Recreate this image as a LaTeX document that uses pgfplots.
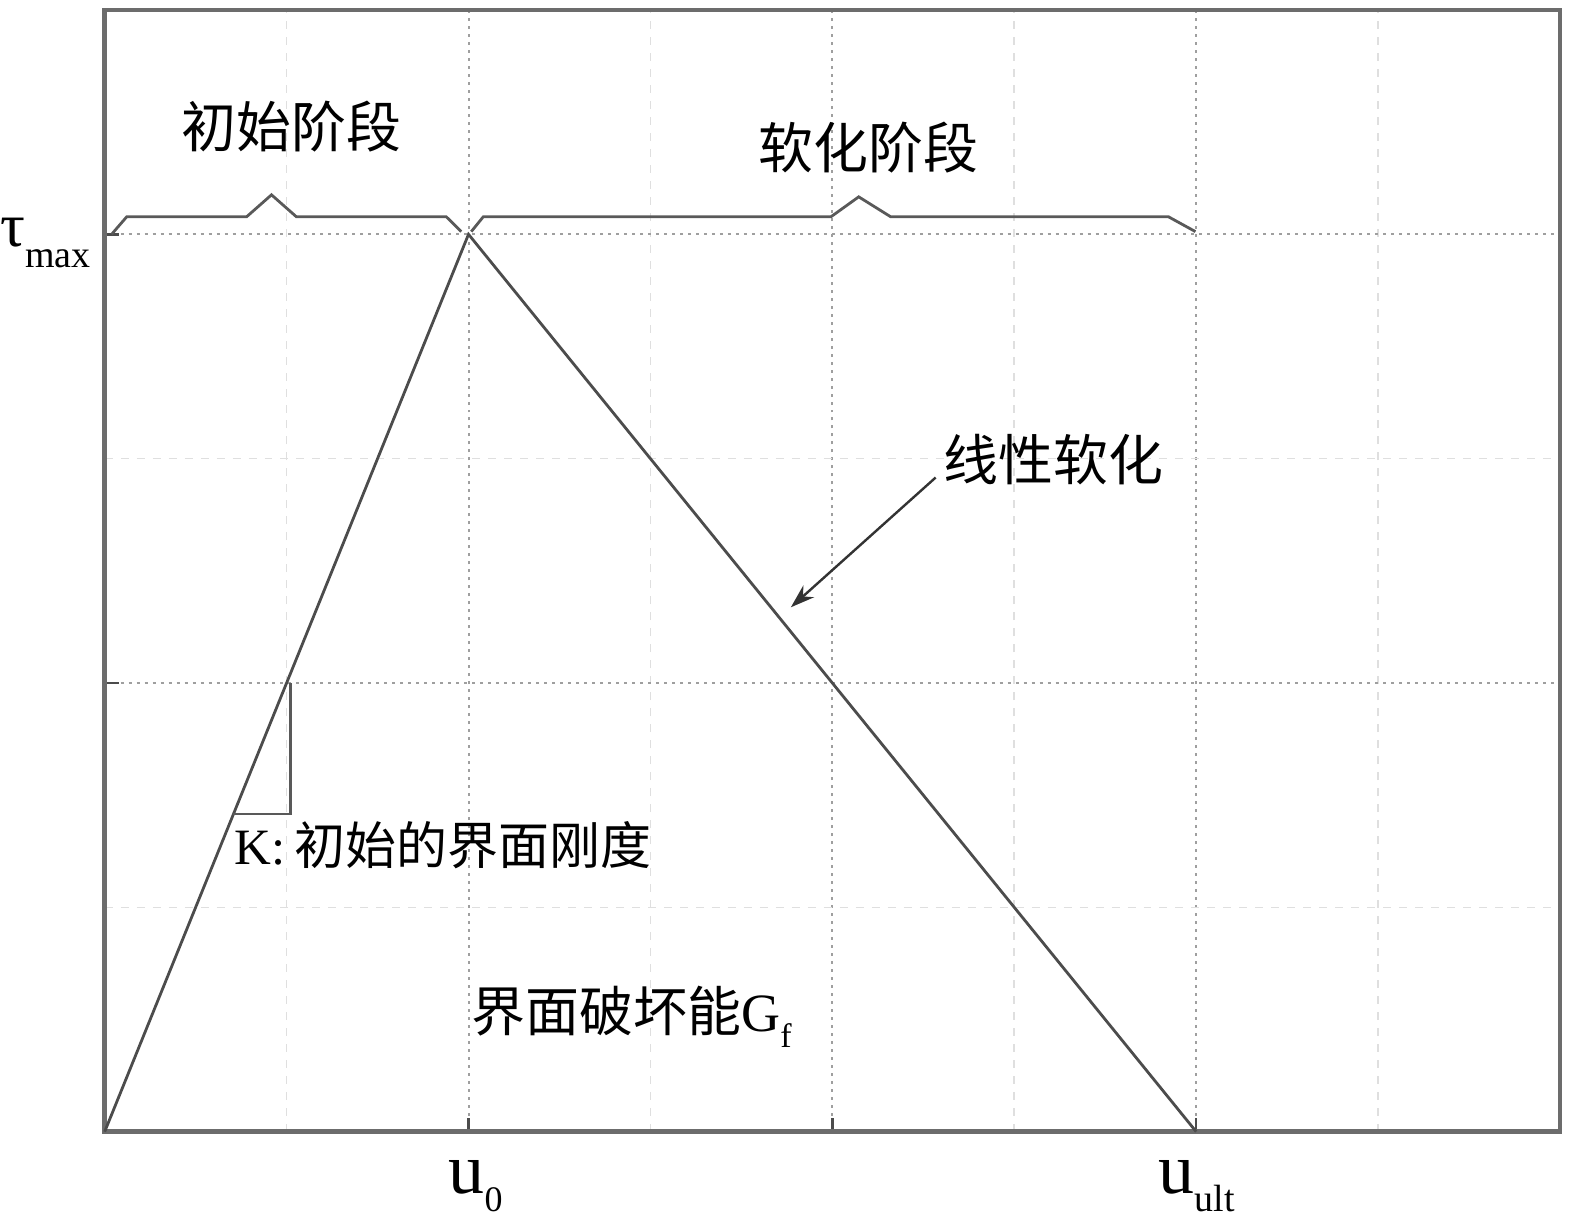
\documentclass[border=0pt]{standalone}
\usepackage{fontspec}
\setmainfont{Liberation Serif}
\newfontfamily\cjk{Noto Sans CJK SC}
\usepackage{pgfplots}
\pgfplotsset{compat=1.18}
\usetikzlibrary{arrows.meta}
\begin{document}
\begin{tikzpicture}
\begin{axis}[
  scale only axis, width=728.5pt, height=561.5pt,
  xmin=0, xmax=8, ymin=0, ymax=5,
  xtick={2,4,6}, ytick={2,4},
  minor xtick={1,3,5,7}, minor ytick={1,3},
  xticklabels={}, yticklabels={},
  xtick pos=bottom, ytick pos=left,
  tick align=inside,
  major tick length=7pt, minor tick length=0pt,
  tick style={black!70, line width=1.2pt},
  grid=both,
  major grid style={dash pattern=on 1.5pt off 2.5pt, gray!75, line width=1pt},
  minor grid style={dash pattern=on 4pt off 4pt, gray!25, line width=0.8pt},
  axis line style={gray!85!black, line width=2.2pt},
  clip=false,
]
\addplot[black!70, line width=1.4pt] coordinates {(0,0) (2,4) (6,0)};
\addplot[black!65, line width=1.4pt] coordinates {(1.02,2) (1.02,1.416) (0.708,1.416)};
% braces
\addplot[black!65, line width=1.4pt] coordinates {(0.038,4.0) (0.121,4.078) (0.780,4.078) (0.917,4.176) (1.054,4.078) (1.878,4.078) (1.960,4.012)};
\addplot[black!65, line width=1.4pt] coordinates {(2.015,4.012) (2.081,4.078) (3.992,4.078) (4.145,4.167) (4.321,4.078) (5.848,4.078) (5.996,4.012)};
\draw[black!80, line width=1.2pt, -{Stealth[length=12pt,width=8pt]}] (axis cs:4.568,2.916) -- (axis cs:3.772,2.3375);
% texts
\node[inner sep=0] at (axis cs:1.027,4.479) {\fontsize{27.5}{30}\selectfont\cjk 初始阶段};
\node[inner sep=0] at (axis cs:4.200,4.386) {\fontsize{27.5}{30}\selectfont\cjk 软化阶段};
\node[inner sep=0] at (axis cs:5.216,2.996) {\fontsize{27.5}{30}\selectfont\cjk 线性软化};
\node[inner sep=0, anchor=base west] at (axis cs:0.714,1.189) {\fontsize{25.5}{28}\selectfont K:\,{\cjk 初始的界面刚度}};
\node[inner sep=0, anchor=base west] at (axis cs:2.015,0.445) {\fontsize{27}{30}\selectfont{\cjk 界面破坏能}G\raisebox{-8pt}{\fontsize{17}{17}\selectfont f}};
\node[inner sep=0, anchor=base east] at (axis cs:-0.075,3.945) {\fontsize{31}{31}\selectfont τ\raisebox{-10.5pt}{\fontsize{19}{19}\selectfont max}};
\node[inner sep=0, anchor=base west] at (axis cs:1.889,-0.276) {\fontsize{36}{36}\selectfont u\raisebox{-9pt}{\fontsize{18}{18}\selectfont 0}};
\node[inner sep=0, anchor=base west] at (axis cs:5.793,-0.276) {\fontsize{36}{36}\selectfont u\raisebox{-9pt}{\fontsize{19}{19}\selectfont ult}};
\coordinate (bbsw) at (axis cs:-0.5755,-0.4096);
\coordinate (bbne) at (axis cs:8.0824,5.0445);
\end{axis}
\pgfresetboundingbox
\path (bbsw) rectangle (bbne);
\end{tikzpicture}
\end{document}
